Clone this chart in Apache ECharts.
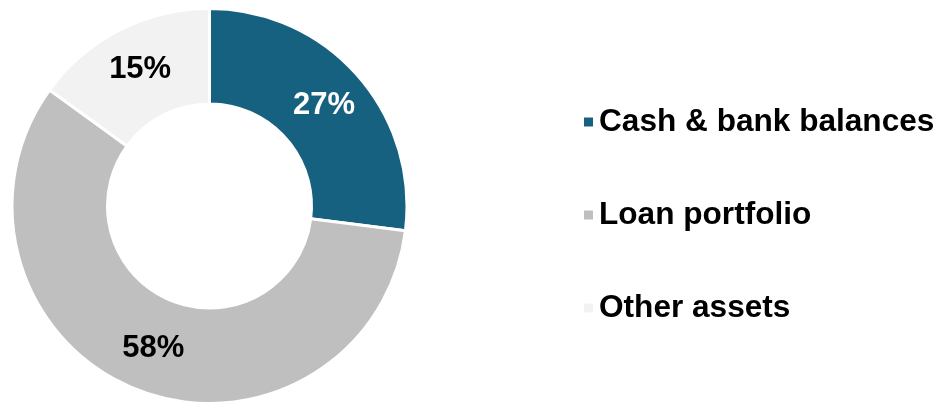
<!DOCTYPE html>
<html>
<head>
<meta charset="utf-8">
<script src="https://cdn.jsdelivr.net/npm/echarts@6/dist/echarts.min.js"></script>
<style>
  html, body { margin: 0; padding: 0; background: #fff; }
  #chart { width: 941px; height: 403px; }
</style>
</head>
<body>
<div id="chart"></div>
<script>
// asset breakdown, percent of total
const categories = ['Cash & bank balances', 'Loan portfolio', 'Other assets'];
const shares = [27, 58, 15];
const colors = ['#166080', '#bfbfbf', '#f2f2f2'];
const labelColors = ['#ffffff', '#000000', '#000000'];

const font = '"Liberation Sans", Arial, sans-serif';

const chart = echarts.init(document.getElementById('chart'));

chart.setOption({
  animation: false,
  backgroundColor: '#ffffff',
  legend: {
    orient: 'vertical',
    left: 577,
    top: 99,
    itemWidth: 11,
    itemHeight: 11,
    itemGap: 57,
    icon: 'rect',
    selectedMode: false,
    textStyle: {
      fontFamily: font,
      fontWeight: 'bold',
      fontSize: 31.6,
      lineHeight: 36,
      color: '#000',
      padding: [0, 0, 0, 0]
    },
    data: categories
  },
  series: [{
    type: 'pie',
    center: [209.5, 206],
    radius: [102, 197.5],
    startAngle: 90,
    clockwise: true,
    emphasis: { disabled: true },
    itemStyle: { borderColor: '#ffffff', borderWidth: 3 },
    label: {
      show: true,
      position: 'inside',
      formatter: '{c}%',
      fontFamily: font,
      fontWeight: 'bold',
      fontSize: 31
    },
    labelLine: { show: false },
    data: categories.map((name, i) => ({
      name: name,
      value: shares[i],
      itemStyle: { color: colors[i] },
      label: { color: labelColors[i] }
    }))
  }]
});
</script>
</body>
</html>
